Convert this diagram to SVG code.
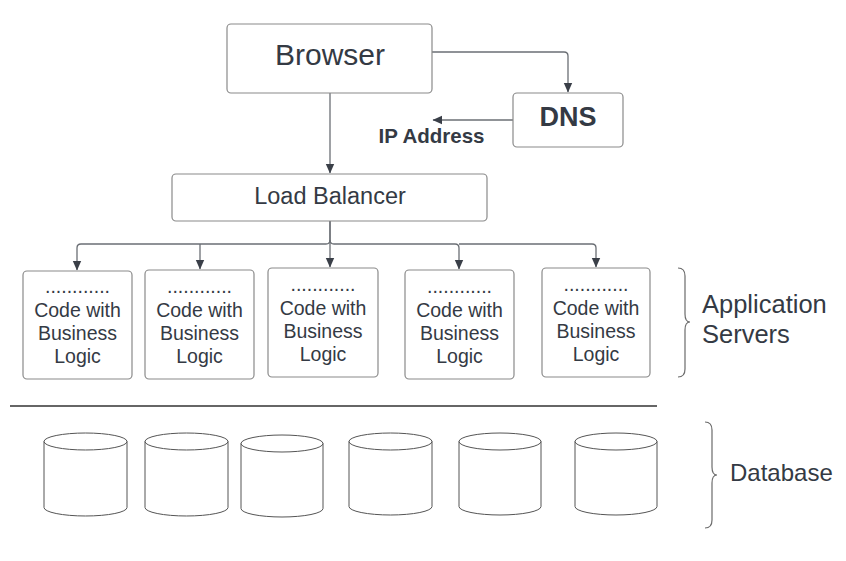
<svg xmlns="http://www.w3.org/2000/svg" width="846" height="561" viewBox="0 0 846 561">
<style>
.box{fill:#fff;stroke:#8a8a8a;stroke-width:1.2}
.cyl{fill:#fff;stroke:#555;stroke-width:1}
.t{font-family:"Liberation Sans",Arial,sans-serif;fill:#343a44;text-anchor:middle}
.b{font-weight:bold}
.c{fill:none;stroke:#6b6f75;stroke-width:1.3}
.brace{fill:none;stroke:#6b6b6b;stroke-width:1.2}
.lbl{font-family:"Liberation Sans",Arial,sans-serif;fill:#343a44}
</style>
<defs>
<marker id="ah" markerWidth="10" markerHeight="10" refX="9" refY="5" orient="auto" markerUnits="userSpaceOnUse">
<path d="M0,0.8 L9.5,5 L0,9.2 Z" fill="#3a3f48"/>
</marker>
</defs>
<rect width="846" height="561" fill="#fff"/>

<g id="connectors">
<path class="c" d="M432,52 H564 Q568,52 568,56 V92" marker-end="url(#ah)"/>
<path class="c" d="M513,120 H433" marker-end="url(#ah)"/>
<path class="c" d="M330,93 V173" marker-end="url(#ah)"/>
<path class="c" d="M330,221 V240 Q330,244 326,244 H81 Q77,244 77,248 V270" marker-end="url(#ah)"/>
<path class="c" d="M200,244 V269" marker-end="url(#ah)"/>
<path class="c" d="M330,221 V267" marker-end="url(#ah)"/>
<path class="c" d="M330,240 Q330,244 334,244 H455 Q459,244 459,248 V269" marker-end="url(#ah)"/>
<path class="c" d="M459,244 H592 Q596,244 596,248 V267" marker-end="url(#ah)"/>
</g>

<g id="browser">
<rect class="box" x="227" y="24" width="205" height="69" rx="4"/>
<text class="t" x="330" y="65" font-size="30">Browser</text>
</g>

<g id="dns">
<rect class="box" x="513" y="93" width="110" height="54" rx="4"/>
<text class="t b" x="568" y="126" font-size="27">DNS</text>
</g>

<g id="ip-label">
<text class="t b" x="431.5" y="143" font-size="20.5">IP Address</text>
</g>

<g id="load-balancer">
<rect class="box" x="172" y="174" width="315" height="47" rx="4"/>
<text class="t" x="330" y="204" font-size="23.5">Load Balancer</text>
</g>

<g id="server1">
<rect class="box" x="23" y="271" width="109" height="108" rx="4"/>
<text class="t" x="77.5" y="293" font-size="19.5">............</text>
<text class="t" x="77.5" y="317" font-size="19.5">Code with</text>
<text class="t" x="77.5" y="340" font-size="19.5">Business</text>
<text class="t" x="77.5" y="363" font-size="19.5">Logic</text>
</g>
<g id="server2">
<rect class="box" x="145" y="270" width="109" height="109" rx="4"/>
<text class="t" x="199.5" y="293" font-size="19.5">............</text>
<text class="t" x="199.5" y="317" font-size="19.5">Code with</text>
<text class="t" x="199.5" y="340" font-size="19.5">Business</text>
<text class="t" x="199.5" y="363" font-size="19.5">Logic</text>
</g>
<g id="server3">
<rect class="box" x="268" y="268" width="110" height="109" rx="4"/>
<text class="t" x="323" y="291" font-size="19.5">............</text>
<text class="t" x="323" y="315" font-size="19.5">Code with</text>
<text class="t" x="323" y="338" font-size="19.5">Business</text>
<text class="t" x="323" y="361" font-size="19.5">Logic</text>
</g>
<g id="server4">
<rect class="box" x="405" y="270" width="109" height="109" rx="4"/>
<text class="t" x="459.5" y="293" font-size="19.5">............</text>
<text class="t" x="459.5" y="317" font-size="19.5">Code with</text>
<text class="t" x="459.5" y="340" font-size="19.5">Business</text>
<text class="t" x="459.5" y="363" font-size="19.5">Logic</text>
</g>
<g id="server5">
<rect class="box" x="542" y="268" width="108" height="109" rx="4"/>
<text class="t" x="596" y="291" font-size="19.5">............</text>
<text class="t" x="596" y="315" font-size="19.5">Code with</text>
<text class="t" x="596" y="338" font-size="19.5">Business</text>
<text class="t" x="596" y="361" font-size="19.5">Logic</text>
</g>

<g id="app-servers-label">
<path class="brace" d="M678,268 Q685,268 685,276 V314 Q685,322 690,322 Q685,322 685,330 V369 Q685,377 678,377"/>
<text class="lbl" x="702" y="313" font-size="25.5">Application</text>
<text class="lbl" x="702" y="343" font-size="25.5">Servers</text>
</g>

<g id="divider">
<line x1="10" y1="406" x2="657" y2="406" stroke="#333" stroke-width="1.5"/>
</g>

<g id="db1"><path class="cyl" d="M44,441.5 A41.5,8.5 0 0 1 127,441.5 A41.5,8.5 0 0 1 44,441.5 Z M44,441.5 V507.5 A41.5,8.5 0 0 0 127,507.5 V441.5"/></g>
<g id="db2"><path class="cyl" d="M145,441.5 A41.5,8.5 0 0 1 228,441.5 A41.5,8.5 0 0 1 145,441.5 Z M145,441.5 V507.5 A41.5,8.5 0 0 0 228,507.5 V441.5"/></g>
<g id="db3"><path class="cyl" d="M241,443.5 A41,8.5 0 0 1 323,443.5 A41,8.5 0 0 1 241,443.5 Z M241,443.5 V508.5 A41,8.5 0 0 0 323,508.5 V443.5"/></g>
<g id="db4"><path class="cyl" d="M349,441.5 A41.5,8.5 0 0 1 432,441.5 A41.5,8.5 0 0 1 349,441.5 Z M349,441.5 V506.5 A41.5,8.5 0 0 0 432,506.5 V441.5"/></g>
<g id="db5"><path class="cyl" d="M459,441.5 A41,8.5 0 0 1 541,441.5 A41,8.5 0 0 1 459,441.5 Z M459,441.5 V506.5 A41,8.5 0 0 0 541,506.5 V441.5"/></g>
<g id="db6"><path class="cyl" d="M575,441.5 A41,8.5 0 0 1 657,441.5 A41,8.5 0 0 1 575,441.5 Z M575,441.5 V506.5 A41,8.5 0 0 0 657,506.5 V441.5"/></g>

<g id="database-label">
<path class="brace" d="M705,422 Q712,422 712,430 V467 Q712,475 717,475 Q712,475 712,483 V520 Q712,528 705,528"/>
<text class="lbl" x="730" y="481" font-size="24">Database</text>
</g>
</svg>
